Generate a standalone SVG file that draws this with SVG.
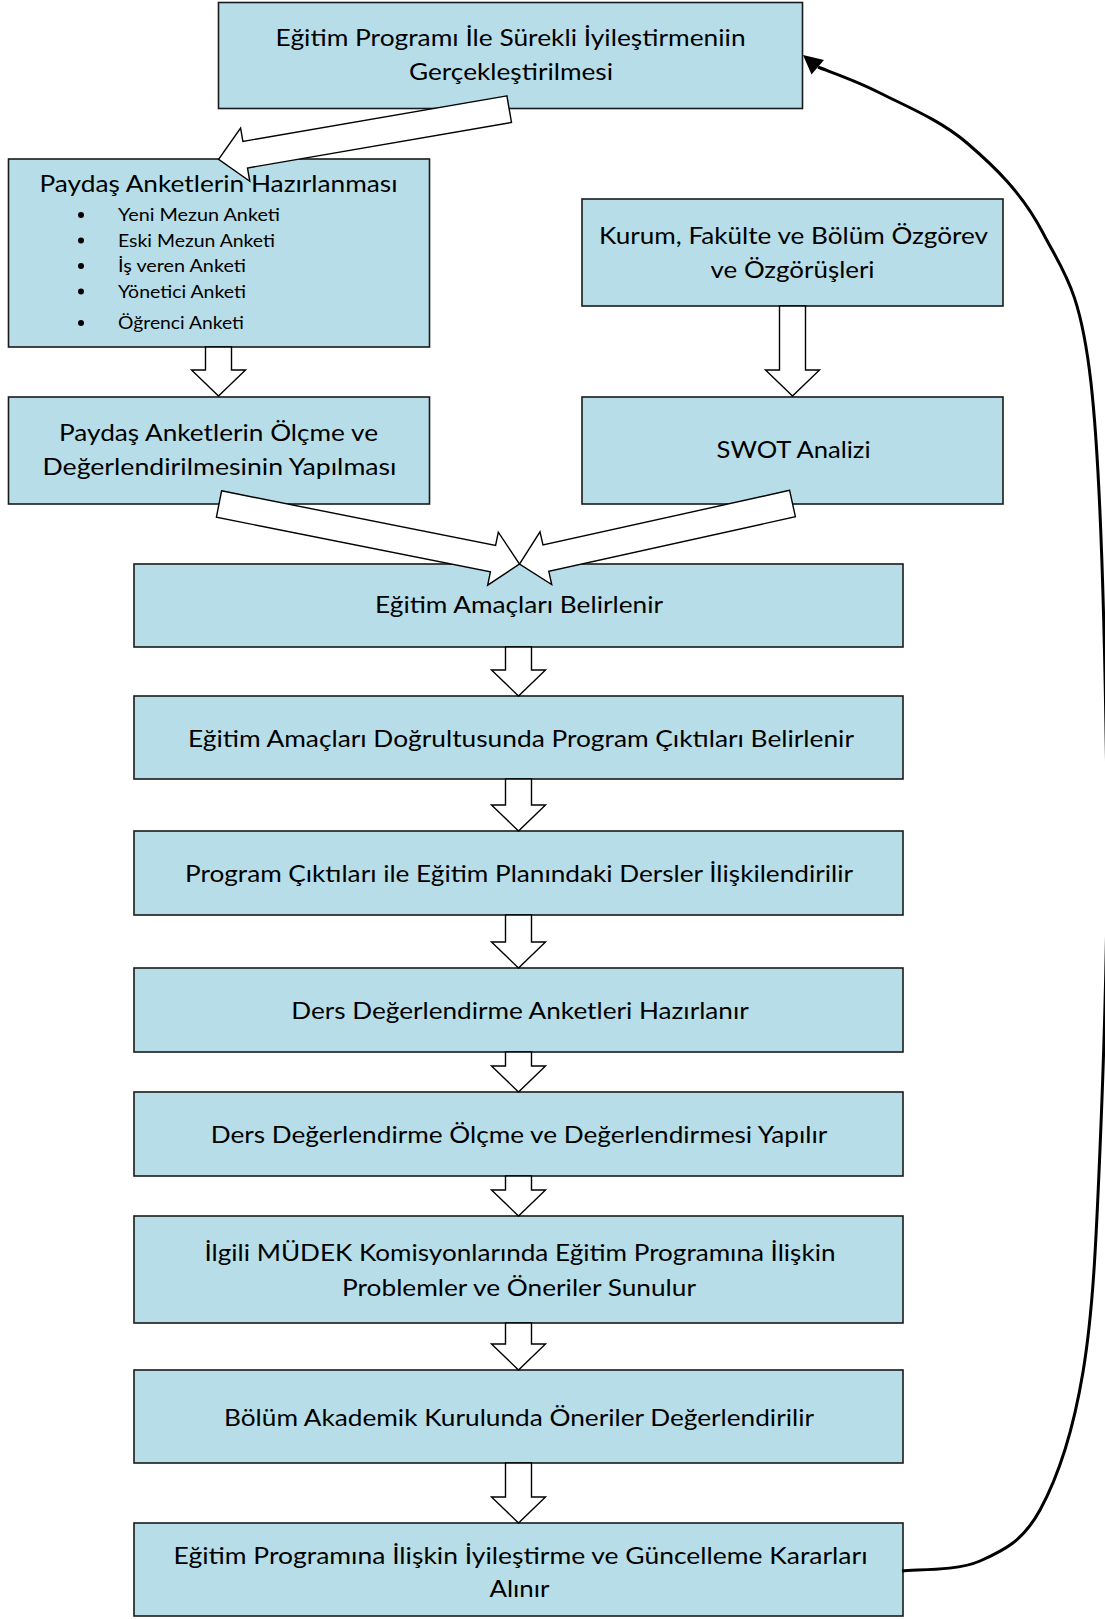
<svg xmlns="http://www.w3.org/2000/svg" width="1105" height="1619" viewBox="0 0 1105 1619">
<style>
.box{fill:#B7DEE8;stroke:#1a1a1a;stroke-width:1.6}
.t{font-family:Lato,"Liberation Sans",sans-serif;font-size:22.5px;fill:#000;text-anchor:middle}
.b{font-family:Lato,"Liberation Sans",sans-serif;font-size:18px;fill:#000}
.ba{fill:#fff;stroke:#000;stroke-width:1.4;stroke-linejoin:miter}
.fb{fill:none;stroke:#000;stroke-width:3}
</style>
<rect width="1105" height="1619" fill="#fff"/>
<g id="n1"><rect class="box" x="218.5" y="2.5" width="584" height="106"/>
<text class="t" x="510.6" y="46" textLength="470" lengthAdjust="spacingAndGlyphs">Eğitim Programı İle Sürekli İyileştirmeniin</text>
<text class="t" x="511" y="80" textLength="204" lengthAdjust="spacingAndGlyphs">Gerçekleştirilmesi</text></g>
<g id="n2"><rect class="box" x="8.5" y="159" width="421" height="188"/>
<text class="t" x="218.5" y="192" textLength="358" lengthAdjust="spacingAndGlyphs">Paydaş Anketlerin Hazırlanması</text>
<g fill="#000"><circle cx="81" cy="215" r="3"/><circle cx="81" cy="240.5" r="3"/><circle cx="81" cy="266" r="3"/><circle cx="81" cy="291.5" r="3"/><circle cx="81" cy="323" r="3"/></g>
<text class="b" x="118" y="221" textLength="162" lengthAdjust="spacingAndGlyphs">Yeni Mezun Anketi</text>
<text class="b" x="118" y="247" textLength="157" lengthAdjust="spacingAndGlyphs">Eski Mezun Anketi</text>
<text class="b" x="118" y="272" textLength="128" lengthAdjust="spacingAndGlyphs">İş veren Anketi</text>
<text class="b" x="118" y="298" textLength="128" lengthAdjust="spacingAndGlyphs">Yönetici Anketi</text>
<text class="b" x="118" y="329" textLength="126" lengthAdjust="spacingAndGlyphs">Öğrenci Anketi</text></g>
<g id="n3"><rect class="box" x="582" y="199" width="421" height="107"/>
<text class="t" x="793.5" y="244" textLength="389" lengthAdjust="spacingAndGlyphs">Kurum, Fakülte ve Bölüm Özgörev</text>
<text class="t" x="792.6" y="278" textLength="164" lengthAdjust="spacingAndGlyphs">ve Özgörüşleri</text></g>
<g id="n4"><rect class="box" x="8.5" y="397" width="421" height="107"/>
<text class="t" x="218.5" y="441" textLength="319" lengthAdjust="spacingAndGlyphs">Paydaş Anketlerin Ölçme ve</text>
<text class="t" x="219.5" y="475" textLength="354" lengthAdjust="spacingAndGlyphs">Değerlendirilmesinin Yapılması</text></g>
<g id="n5"><rect class="box" x="582" y="397" width="421" height="107"/>
<text class="t" x="793.6" y="458" textLength="154" lengthAdjust="spacingAndGlyphs">SWOT Analizi</text></g>
<g id="n6"><rect class="box" x="134" y="564" width="769" height="83"/>
<text class="t" x="519" y="613" textLength="288" lengthAdjust="spacingAndGlyphs">Eğitim Amaçları Belirlenir</text></g>
<g id="n7"><rect class="box" x="134" y="696" width="769" height="83"/>
<text class="t" x="521" y="746.5" textLength="666" lengthAdjust="spacingAndGlyphs">Eğitim Amaçları Doğrultusunda Program Çıktıları Belirlenir</text></g>
<g id="n8"><rect class="box" x="134" y="831" width="769" height="84"/>
<text class="t" x="519" y="881.5" textLength="668" lengthAdjust="spacingAndGlyphs">Program Çıktıları ile Eğitim Planındaki Dersler İlişkilendirilir</text></g>
<g id="n9"><rect class="box" x="134" y="968" width="769" height="84"/>
<text class="t" x="520" y="1019" textLength="457.5" lengthAdjust="spacingAndGlyphs">Ders Değerlendirme Anketleri Hazırlanır</text></g>
<g id="n10"><rect class="box" x="134" y="1092" width="769" height="84"/>
<text class="t" x="519" y="1143" textLength="616.5" lengthAdjust="spacingAndGlyphs">Ders Değerlendirme Ölçme ve Değerlendirmesi Yapılır</text></g>
<g id="n11"><rect class="box" x="134" y="1216" width="769" height="107"/>
<text class="t" x="520" y="1261" textLength="631" lengthAdjust="spacingAndGlyphs">İlgili MÜDEK Komisyonlarında Eğitim Programına İlişkin</text>
<text class="t" x="519" y="1296" textLength="354" lengthAdjust="spacingAndGlyphs">Problemler ve Öneriler Sunulur</text></g>
<g id="n12"><rect class="box" x="134" y="1370" width="769" height="93"/>
<text class="t" x="519" y="1425.5" textLength="590" lengthAdjust="spacingAndGlyphs">Bölüm Akademik Kurulunda Öneriler Değerlendirilir</text></g>
<g id="n13"><rect class="box" x="134" y="1523" width="769" height="93"/>
<text class="t" x="520.5" y="1564" textLength="694" lengthAdjust="spacingAndGlyphs">Eğitim Programına İlişkin İyileştirme ve Güncelleme Kararları</text>
<text class="t" x="519.5" y="1597" textLength="60" lengthAdjust="spacingAndGlyphs">Alınır</text></g>
<g id="connectors">
<polygon class="ba" points="506.9,95.9 242.9,141.4 240.6,128.1 218.6,159.3 249.8,181.3 247.5,168 511.5,122.5"/>
<polygon class="ba" points="205.5,347 231.5,347 231.5,370 245.5,370 218.5,396 191.5,370 205.5,370"/>
<polygon class="ba" points="779.5,306 805.5,306 805.5,370 819.5,370 792.5,396 765.5,370 779.5,370"/>
<polygon class="ba" points="221.6,490.8 495.6,545.5 498.3,532.2 519.5,564 487.7,585.2 490.4,571.9 216.4,517.2"/>
<polygon class="ba" points="789.6,490.3 543,545 540,531.8 519.5,564 551.7,584.5 548.8,571.4 795.4,516.7"/>
<polygon class="ba" points="505.5,647 531.5,647 531.5,670 545.5,670 518.5,696 491.5,670 505.5,670"/>
<polygon class="ba" points="505.5,779 531.5,779 531.5,805 545.5,805 518.5,831 491.5,805 505.5,805"/>
<polygon class="ba" points="505.5,915 531.5,915 531.5,942 545.5,942 518.5,968 491.5,942 505.5,942"/>
<polygon class="ba" points="505.5,1052 531.5,1052 531.5,1066 545.5,1066 518.5,1092 491.5,1066 505.5,1066"/>
<polygon class="ba" points="505.5,1176 531.5,1176 531.5,1190 545.5,1190 518.5,1216 491.5,1190 505.5,1190"/>
<polygon class="ba" points="505.5,1323 531.5,1323 531.5,1344 545.5,1344 518.5,1370 491.5,1344 505.5,1344"/>
<polygon class="ba" points="505.5,1463 531.5,1463 531.5,1497 545.5,1497 518.5,1523 491.5,1497 505.5,1497"/>
<path class="fb" d="M902,1571 C915,1569.3 957,1571.2 980,1561 C1003,1550.8 1022.8,1541.5 1040,1510 C1057.2,1478.5 1073,1432.2 1083,1372 C1093,1311.8 1096,1244.3 1100,1149 C1104,1053.7 1108.5,927.7 1107,800 C1105.5,672.3 1101.7,477.5 1091,383 C1080.3,288.5 1063.7,273 1043,233 C1022.3,193 994.2,166.3 967,143 C939.8,119.7 904.8,105.7 880,93 C855.7,80.3 828.3,71.3 818,67"/>
<polygon fill="#000" points="803,55 824,60 811.5,74.5"/>
</g>
</svg>
